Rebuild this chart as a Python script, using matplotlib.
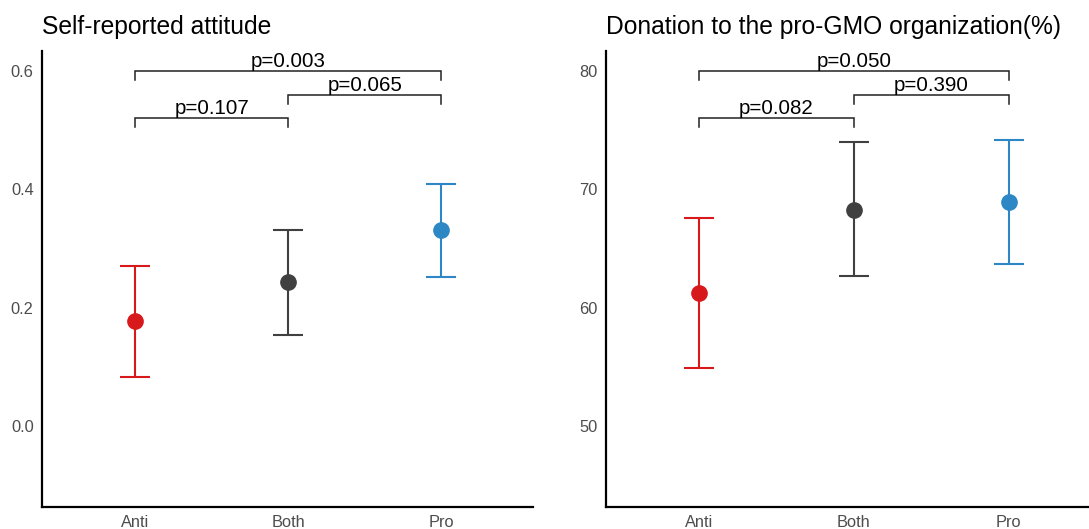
import numpy as np
import matplotlib
matplotlib.use('Agg')
import matplotlib.pyplot as plt

plt.rcParams['font.family'] = ['Liberation Sans', 'DejaVu Sans']

# categories and colours
groups = ['Anti', 'Both', 'Pro']
colors = ['#d7191c', '#404040', '#2c87c4']

# self-reported attitude
att_mean = [0.178, 0.244, 0.331]
att_low = [0.083, 0.154, 0.252]
att_high = [0.271, 0.331, 0.409]
att_ticks = [0.0, 0.2, 0.4, 0.6]
att_ticklabels = ['0.0', '0.2', '0.4', '0.6']
att_p = [(1, 2, 0.520, 'p=0.107'), (2, 3, 0.560, 'p=0.065'), (1, 3, 0.600, 'p=0.003')]

# donation (%)
don_mean = [61.2, 68.3, 68.9]
don_low = [54.9, 62.7, 63.7]
don_high = [67.6, 74.0, 74.2]
don_ticks = [50, 60, 70, 80]
don_ticklabels = ['50', '60', '70', '80']
don_p = [(1, 2, 76.0, 'p=0.082'), (2, 3, 78.0, 'p=0.390'), (1, 3, 80.0, 'p=0.050')]


def panel(ax, title, mean, low, high, ticks, ticklabels, pvals, ylim, xlim, tick_len):
    x = np.arange(1, len(groups) + 1)
    for i in range(len(groups)):
        ax.errorbar(x[i], mean[i],
                    yerr=[[mean[i] - low[i]], [high[i] - mean[i]]],
                    fmt='o', color=colors[i], ms=11, elinewidth=1.5,
                    capsize=10.8, capthick=1.5, zorder=3)
    # significance brackets
    for a, b, y, label in pvals:
        ax.plot([a, a, b, b], [y - tick_len, y, y, y - tick_len],
                color='#222222', lw=1.1, solid_joinstyle='miter')
        ax.text((a + b) / 2, y, label, ha='center', va='bottom',
                fontsize=14.8, color='black')
    ax.set_xlim(*xlim)
    ax.set_ylim(*ylim)
    ax.set_xticks(x)
    ax.set_xticklabels(groups)
    ax.set_yticks(ticks)
    ax.set_yticklabels(ticklabels)
    ax.tick_params(length=0, labelsize=11.8, labelcolor='#4d4d4d', pad=6)
    for s in ['top', 'right']:
        ax.spines[s].set_visible(False)
    for s in ['left', 'bottom']:
        ax.spines[s].set_linewidth(1.6)
        ax.spines[s].set_color('black')
    ax.set_title(title, loc='left', fontsize=17.7, pad=12)


fig = plt.figure(figsize=(10.89, 5.29), dpi=100)
W, H = 1089, 529
ax1 = fig.add_axes([42 / W, 1 - 507 / H, (533 - 42) / W, (507 - 51) / H])
ax2 = fig.add_axes([606 / W, 1 - 507 / H, (1089 - 606) / W, (507 - 51) / H])

panel(ax1, 'Self-reported attitude', att_mean, att_low, att_high,
      att_ticks, att_ticklabels, att_p, (-0.137, 0.634), (0.39, 3.6), 0.015)
panel(ax2, 'Donation to the pro-GMO organization(%)', don_mean, don_low, don_high,
      don_ticks, don_ticklabels, don_p, (43.15, 81.7), (0.4, 3.52), 0.76)

fig.savefig('out.png', dpi=100)
